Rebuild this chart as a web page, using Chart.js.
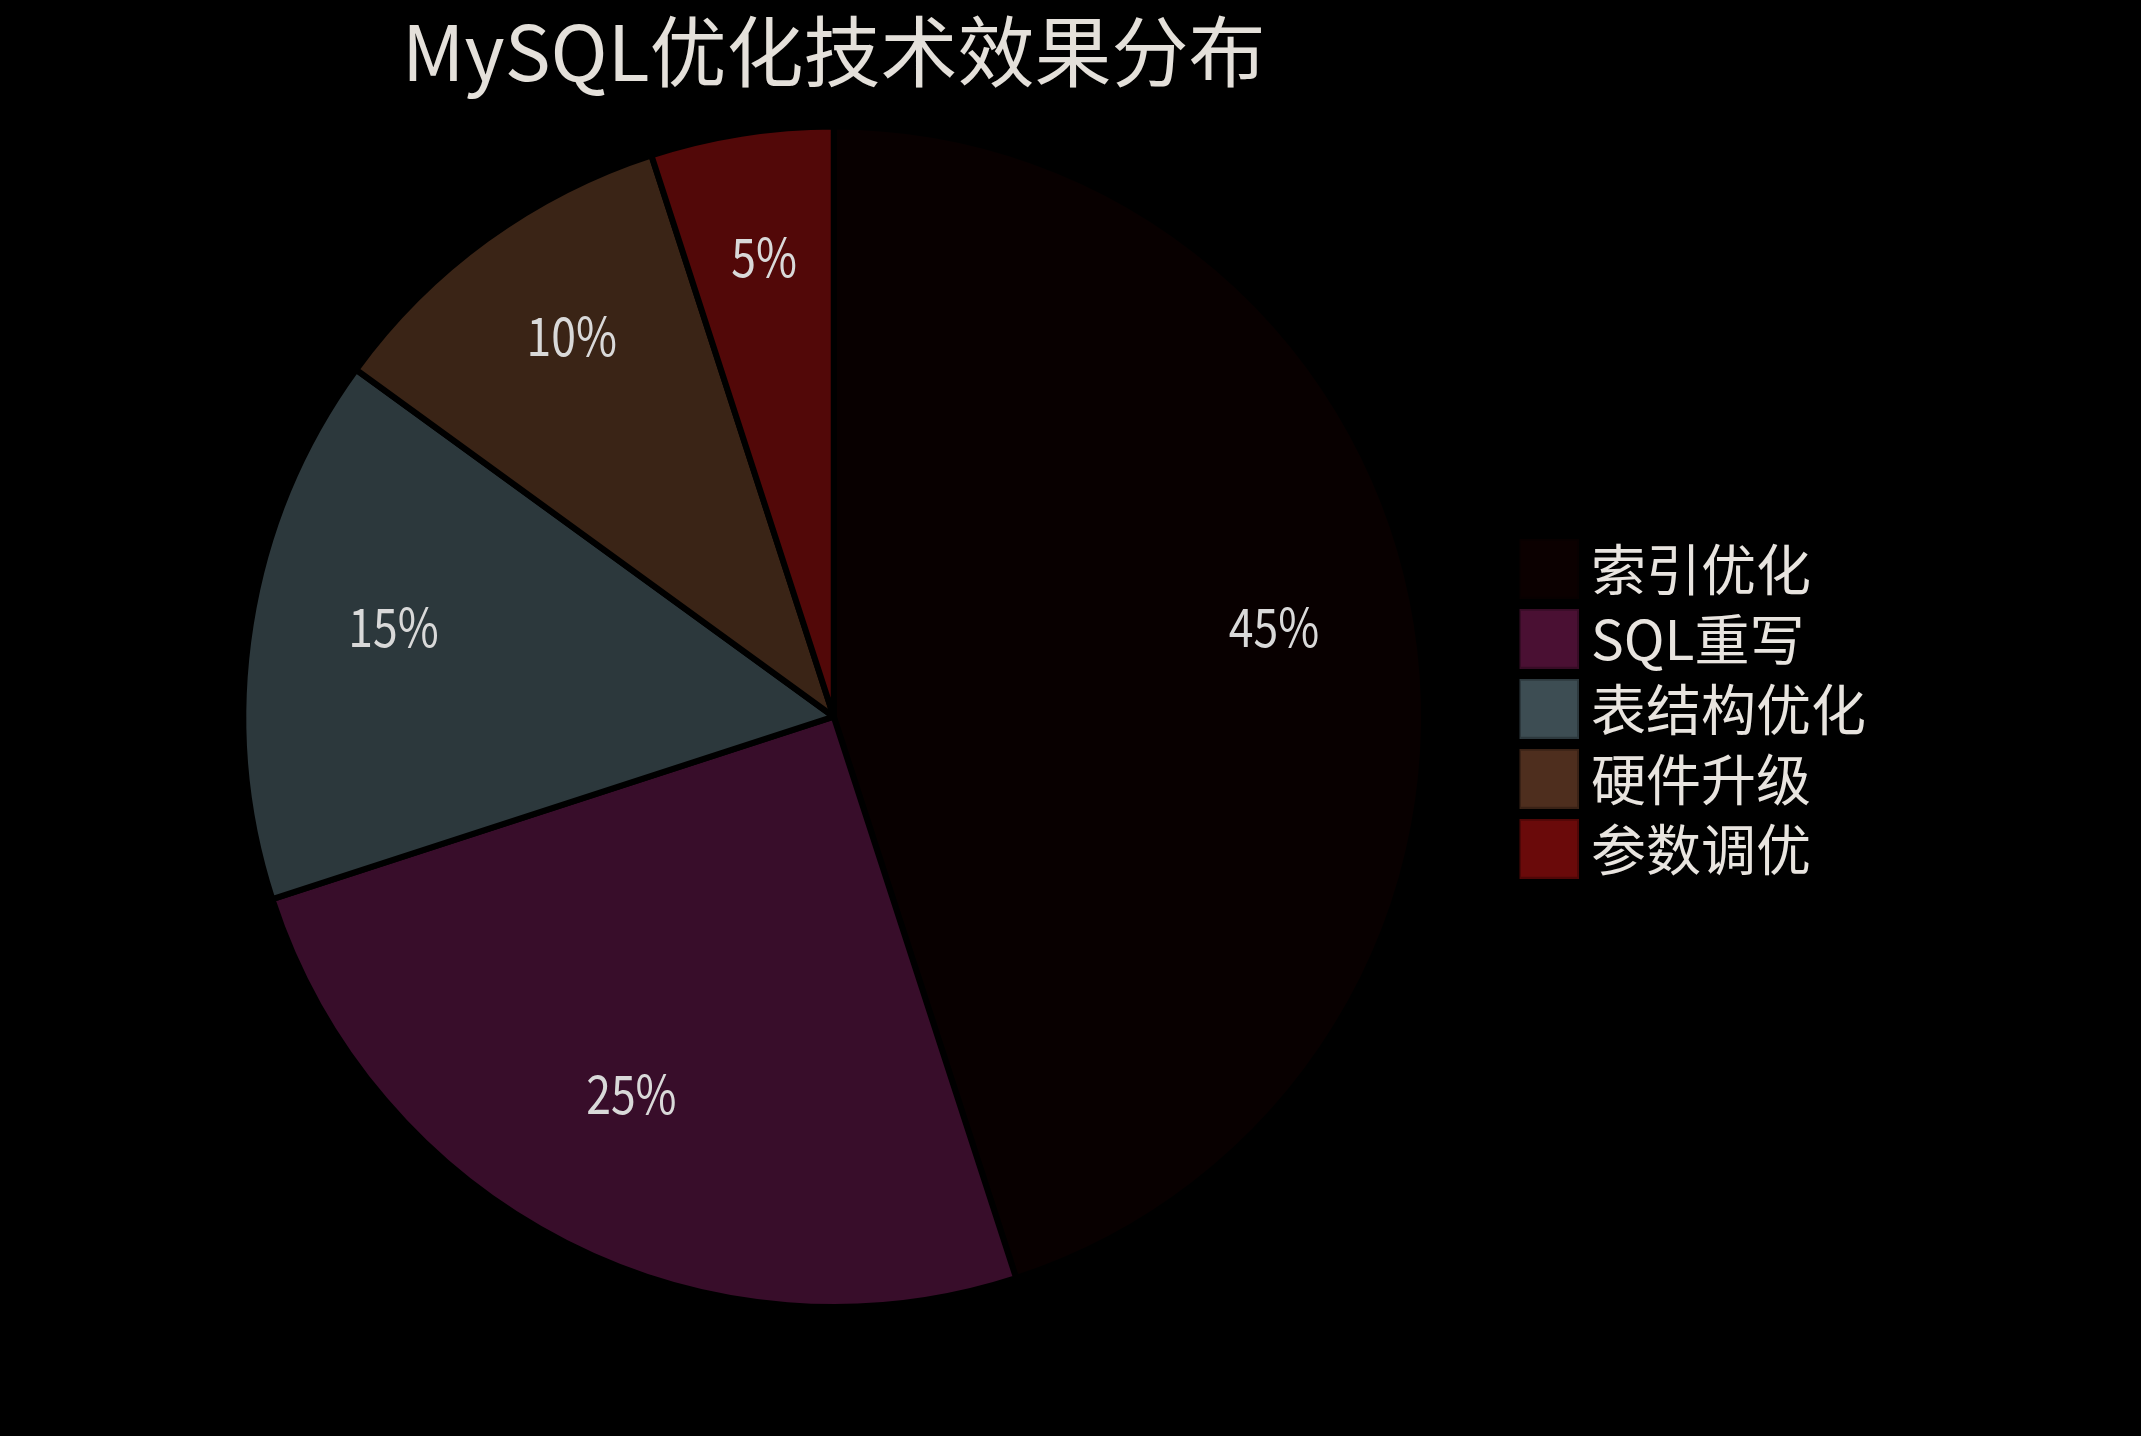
<!DOCTYPE html>
<html>
<head>
<meta charset="utf-8">
<script src="https://cdn.jsdelivr.net/npm/chart.js@4/dist/chart.umd.min.js"></script>
<style>
html,body{margin:0;padding:0;background:#000;}
#wrap{width:2141px;height:1436px;}
</style>
</head>
<body>
<div id="wrap"><canvas id="c" width="2141" height="1436"></canvas></div>
<script>
const titleText = 'MySQL优化技术效果分布';
const categories = ['索引优化', 'SQL重写', '表结构优化', '硬件升级', '参数调优'];
const values = [45, 25, 15, 10, 5];
const legendColors = ['#0b0000', '#4a1033', '#3d4d53', '#4e2e1e', '#6a0a0a'];
const sliceColors = ['#080000', '#380d2a', '#2c383c', '#3a2416', '#520808'];

const FONT = '"Noto Sans CJK SC", "Noto Sans", sans-serif';

function swatch(color) {
  const s = 60;
  const cv = document.createElement('canvas');
  cv.width = s; cv.height = s;
  const g = cv.getContext('2d');
  g.fillStyle = color;
  g.fillRect(0, 0, s, s);
  g.strokeStyle = 'rgba(0,0,0,0.25)';
  g.lineWidth = 2;
  g.strokeRect(1, 1, s - 2, s - 2);
  return cv;
}
const swatches = legendColors.map(swatch);

const labelPlugin = {
  id: 'sliceLabels',
  afterDatasetsDraw(chart) {
    const ctx = chart.ctx;
    const meta = chart.getDatasetMeta(0);
    const total = values.reduce((a, b) => a + b, 0);
    ctx.save();
    ctx.font = '53px ' + FONT;
    ctx.fillStyle = '#d9d9d9';
    ctx.textAlign = 'center';
    ctx.textBaseline = 'alphabetic';
    meta.data.forEach((arc, i) => {
      const p = arc.getProps(['x', 'y', 'startAngle', 'endAngle', 'outerRadius'], true);
      const mid = (p.startAngle + p.endAngle) / 2;
      const r = p.outerRadius * 0.755;
      const x = p.x + Math.cos(mid) * r;
      const y = p.y + Math.sin(mid) * r;
      ctx.save();
      ctx.translate(x, y);
      ctx.scale(0.84, 1);
      ctx.fillText(Math.round(values[i] / total * 100) + '%', 0, 0);
      ctx.restore();
    });
    ctx.restore();
  }
};

const legendNudge = {
  id: 'legendNudge',
  afterLayout(chart) {
    if (chart.legend) {
      chart.legend.top -= 8;
      chart.legend.bottom -= 8;
    }
  }
};

new Chart(document.getElementById('c'), {
  type: 'pie',
  data: {
    labels: categories,
    datasets: [{
      data: values,
      backgroundColor: sliceColors,
      borderColor: '#000000',
      borderWidth: 6
    }]
  },
  options: {
    responsive: false,
    animation: false,
    devicePixelRatio: 1,
    layout: { padding: { left: 148, right: 265, top: 0, bottom: 126 } },
    plugins: {
      title: {
        display: true,
        text: titleText,
        fullSize: false,
        color: '#e4e0da',
        font: { family: FONT, size: 77, weight: 'normal' },
        padding: { top: 6, bottom: 25 }
      },
      legend: {
        position: 'right',
        fullSize: false,
        labels: {
          color: '#e8e4df',
          font: { family: FONT, size: 55 },
          usePointStyle: true,
          pointStyleWidth: 29,
          boxHeight: 55,
          padding: 15,
          generateLabels(chart) {
            return categories.map((c, i) => ({
              text: c,
              fillStyle: legendColors[i],
              strokeStyle: legendColors[i],
              pointStyle: swatches[i],
              lineWidth: 0,
              hidden: false,
              index: i,
              fontColor: '#e8e4df'
            }));
          }
        }
      },
      tooltip: { enabled: false }
    }
  },
  plugins: [labelPlugin, legendNudge]
});
</script>
</body>
</html>
